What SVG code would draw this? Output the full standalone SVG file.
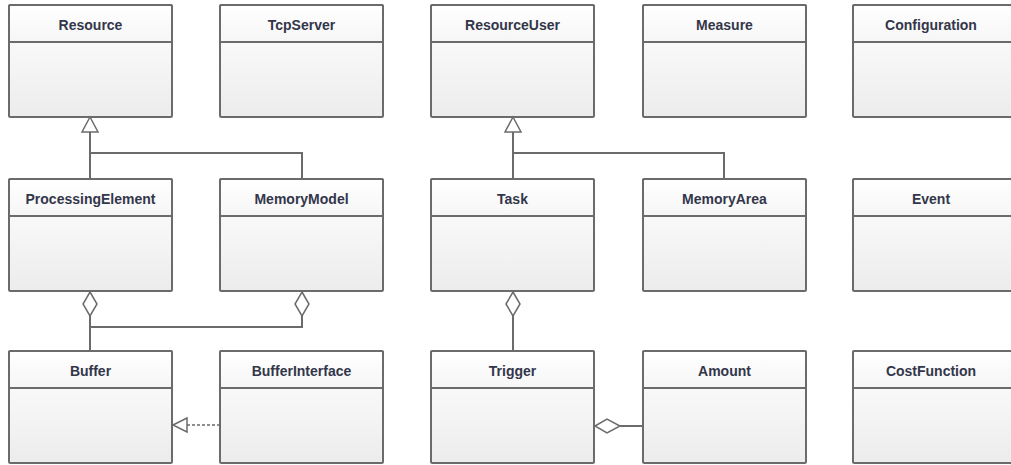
<svg xmlns="http://www.w3.org/2000/svg" width="1011" height="465" viewBox="0 0 1011 465">
  <defs>
    <linearGradient id="body" x1="0" y1="0" x2="0" y2="1">
      <stop offset="0" stop-color="#ffffff"/>
      <stop offset="1" stop-color="#ececec"/>
    </linearGradient>
    <linearGradient id="head" x1="0" y1="0" x2="0" y2="1">
      <stop offset="0" stop-color="#ffffff"/>
      <stop offset="1" stop-color="#f6f6f6"/>
    </linearGradient>
    <!-- one class box: header band and body compartment -->
    <g id="box">
      <rect x="0" y="0" width="163" height="112" rx="1.5" fill="url(#body)" stroke="#6b6b6b" stroke-width="2"/>
      <rect x="0" y="0" width="163" height="37" rx="1.5" fill="url(#head)" stroke="#6b6b6b" stroke-width="2"/>
    </g>
  </defs>
  <style>
    .name { font-family: "Liberation Sans", Arial, sans-serif; font-size: 14px; font-weight: bold; fill: #33364a; text-anchor: middle; }
    .line { fill: none; stroke: #6b6b6b; stroke-width: 2; }
    .dash { fill: none; stroke: #6b6b6b; stroke-width: 1.5; stroke-dasharray: 3 2; }
    .head { fill: #ffffff; stroke: #6b6b6b; stroke-width: 1.5; }
  </style>
  <rect width="1011" height="465" fill="#ffffff"/>

  <!-- row 1 -->
  <g id="Resource"><use href="#box" x="9" y="5"/><text class="name" x="90.5" y="30">Resource</text></g>
  <g id="TcpServer"><use href="#box" x="220" y="5"/><text class="name" x="301.5" y="30">TcpServer</text></g>
  <g id="ResourceUser"><use href="#box" x="431" y="5"/><text class="name" x="512.5" y="30">ResourceUser</text></g>
  <g id="Measure"><use href="#box" x="643" y="5"/><text class="name" x="724.5" y="30">Measure</text></g>
  <g id="Configuration"><use href="#box" x="853" y="5"/><text class="name" x="931" y="30">Configuration</text></g>

  <!-- row 2 -->
  <g id="ProcessingElement"><use href="#box" x="9" y="179"/><text class="name" x="90.5" y="204">ProcessingElement</text></g>
  <g id="MemoryModel"><use href="#box" x="220" y="179"/><text class="name" x="301.5" y="204">MemoryModel</text></g>
  <g id="Task"><use href="#box" x="431" y="179"/><text class="name" x="512.5" y="204">Task</text></g>
  <g id="MemoryArea"><use href="#box" x="643" y="179"/><text class="name" x="724.5" y="204">MemoryArea</text></g>
  <g id="Event"><use href="#box" x="853" y="179"/><text class="name" x="931" y="204">Event</text></g>

  <!-- row 3 -->
  <g id="Buffer"><use href="#box" x="9" y="351"/><text class="name" x="90.5" y="376">Buffer</text></g>
  <g id="BufferInterface"><use href="#box" x="220" y="351"/><text class="name" x="301.5" y="376">BufferInterface</text></g>
  <g id="Trigger"><use href="#box" x="431" y="351"/><text class="name" x="512.5" y="376">Trigger</text></g>
  <g id="Amount"><use href="#box" x="643" y="351"/><text class="name" x="724.5" y="376">Amount</text></g>
  <g id="CostFunction"><use href="#box" x="853" y="351"/><text class="name" x="931" y="376">CostFunction</text></g>

  <g id="connectors">
    <!-- generalisation: ProcessingElement, MemoryModel -> Resource -->
    <path class="line" d="M90 132 V179 M90 153 H302 V179"/>
    <path class="head" d="M90 117 L98 132 L82 132 Z"/>
    <!-- generalisation: Task, MemoryArea -> ResourceUser -->
    <path class="line" d="M513 132 V179 M513 153 H724 V179"/>
    <path class="head" d="M513 117 L521 132 L505 132 Z"/>
    <!-- aggregation: Buffer in ProcessingElement and MemoryModel -->
    <path class="line" d="M90 316 V351 M90 327 H302 V316"/>
    <path class="head" d="M90 292 L97 304 L90 316 L83 304 Z"/>
    <path class="head" d="M302 292 L309 304 L302 316 L295 304 Z"/>
    <!-- aggregation: Trigger in Task -->
    <path class="line" d="M513 316 V351"/>
    <path class="head" d="M513 292 L520 304 L513 316 L506 304 Z"/>
    <!-- aggregation: Amount in Trigger -->
    <path class="line" d="M620 426 H643"/>
    <path class="head" d="M595 426 L607 419 L620 426 L607 433 Z"/>
    <!-- realisation: BufferInterface -> Buffer -->
    <path class="dash" d="M220 425 H187"/>
    <path class="head" d="M173 425 L187 418 L187 432 Z"/>
  </g>
</svg>
